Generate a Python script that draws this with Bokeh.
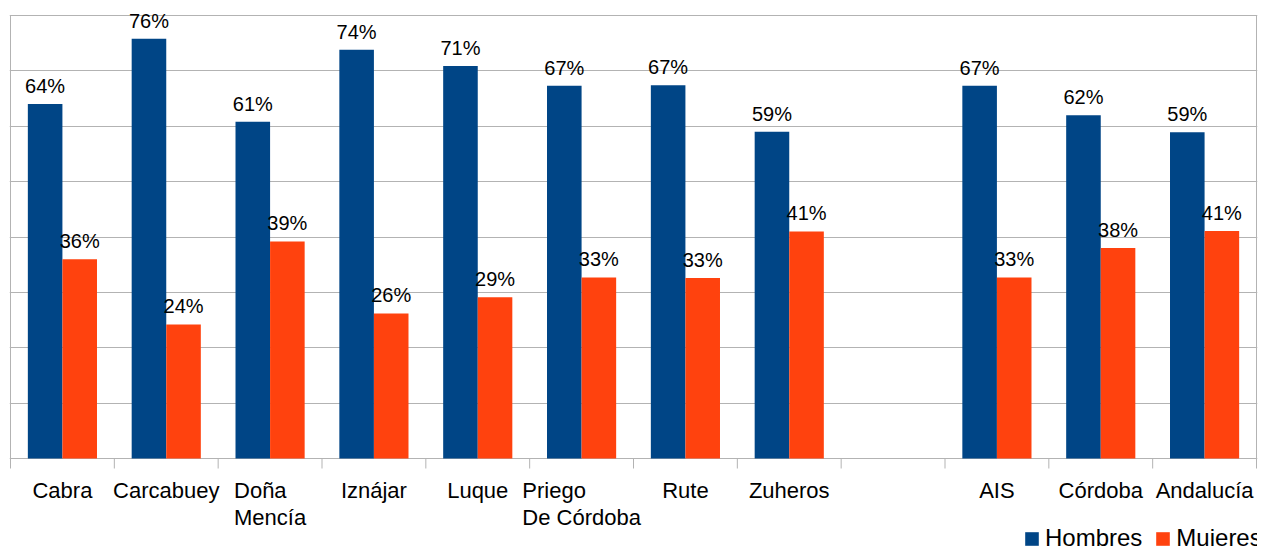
from bokeh.plotting import figure
from bokeh.models import (Range1d, FixedTicker, Legend, LegendItem, ColumnDataSource, Grid)
from bokeh.core.properties import value
from bokeh.embed import file_html
from bokeh.resources import INLINE

categories = ["Cabra", "Carcabuey", "Doña\nMencía", "Iznájar", "Luque",
              "Priego\nDe Córdoba", "Rute", "Zuheros", "", "AIS", "Córdoba", "Andalucía"]
hombres = [64.0, 75.8, 60.8, 73.8, 70.9, 67.3, 67.4, 59.0, None, 67.3, 62.0, 58.9]
mujeres = [36.0, 24.2, 39.2, 26.2, 29.1, 32.7, 32.6, 41.0, None, 32.7, 38.0, 41.1]
series_names = ["Hombres", "Mujeres"]
colors = ["#004586", "#ff420e"]

n = len(categories)
FONT = "Liberation Sans"
GRID = "#b3b3b3"
YMAX = 80
LABEL_PX = 22

# layout in pixels (style only)
W, H = 1269, 546
top_px = 15                      # space above the top gridline
plot_px = 443                    # from top gridline to baseline
below_px = H - top_px - plot_px
unit = plot_px / YMAX
ymin = -below_px / unit
ytop = YMAX + top_px / unit
tick_len = 10 / unit
frame_left, frame_w = 10, 1246
unit_x = frame_w / n
padx = 1 / unit_x                # 1px so that the frame sides are not clipped

p = figure(width=W, height=H, output_backend="svg", toolbar_location=None,
           x_range=Range1d(-padx, n + padx), y_range=Range1d(ymin, ytop),
           min_border_left=frame_left - 1, min_border_right=W - frame_left - frame_w - 1,
           min_border_top=0, min_border_bottom=0,
           x_axis_type=None, y_axis_type=None)
p.outline_line_color = None
p.background_fill_color = "white"
p.border_fill_color = "white"

p.add_layout(Grid(dimension=1, ticker=FixedTicker(ticks=list(range(0, YMAX + 1, 10))),
                  grid_line_color=GRID, grid_line_width=1))

centers = [i + 0.5 for i in range(n)]
bounds = list(range(n + 1))
tick_top = [YMAX if b in (0, n) else 0 for b in bounds]
p.segment(x0=bounds, y0=[-tick_len] * len(bounds), x1=bounds, y1=tick_top,
          line_color=GRID, line_width=1)

# approximate Liberation Sans advance widths (em) for left-aligned multi-line labels
CW = {"D": .722, "o": .556, "ñ": .556, "a": .556, "M": .833, "e": .556, "n": .556,
      "c": .5, "í": .278, "P": .667, "r": .333, "i": .222, "g": .556, " ": .278,
      "C": .722, "ó": .556, "d": .556, "b": .556}

def block_w(lab):
    return max(sum(CW.get(ch, .556) for ch in line) for line in lab.split("\n")) * LABEL_PX

single = [(c, lab) for c, lab in zip(centers, categories) if lab and "\n" not in lab]
multi = [(c, lab) for c, lab in zip(centers, categories) if "\n" in lab]
p.text(x=[c for c, _ in single], y=[0] * len(single), text=[l for _, l in single],
       text_align="center", text_baseline="top", y_offset=19, text_line_height=1.1,
       text_font=value(FONT), text_font_size=f"{LABEL_PX}px", text_color="#000000")
p.text(x=[c for c, _ in multi], y=[0] * len(multi), text=[l for _, l in multi],
       x_offset=[-block_w(l) / 2 for _, l in multi],
       text_align="left", text_baseline="top", y_offset=19, text_line_height=1.1,
       text_font=value(FONT), text_font_size=f"{LABEL_PX}px", text_color="#000000")

bw = 0.333
renderers = []
for si, (vals, col) in enumerate(zip([hombres, mujeres], colors)):
    off = -bw / 2 if si == 0 else bw / 2
    xs = [c + off for c, v in zip(centers, vals) if v is not None]
    ys = [v for v in vals if v is not None]
    src = ColumnDataSource(dict(x=xs, top=ys, t=[f"{round(v)}%" for v in ys]))
    r = p.vbar(x="x", top="top", bottom=0, width=bw, source=src,
               fill_color=col, line_color=None)
    renderers.append(r)
    p.text(x="x", y="top", text="t", source=src, text_align="center",
           text_baseline="alphabetic", y_offset=-18,
           text_font=value(FONT), text_font_size="20px",
           text_color="#000000")

legend = Legend(items=[LegendItem(label=nm, renderers=[r]) for nm, r in zip(series_names, renderers)],
                orientation="horizontal", location=(1014, -6),
                glyph_width=17, glyph_height=17, label_standoff=5, spacing=12,
                padding=0, margin=0, border_line_color=None, background_fill_alpha=0,
                label_text_font=FONT, label_text_font_size="24px", label_text_color="#000000")
p.add_layout(legend, "center")

open("out.html", "w").write(file_html(p, INLINE))
